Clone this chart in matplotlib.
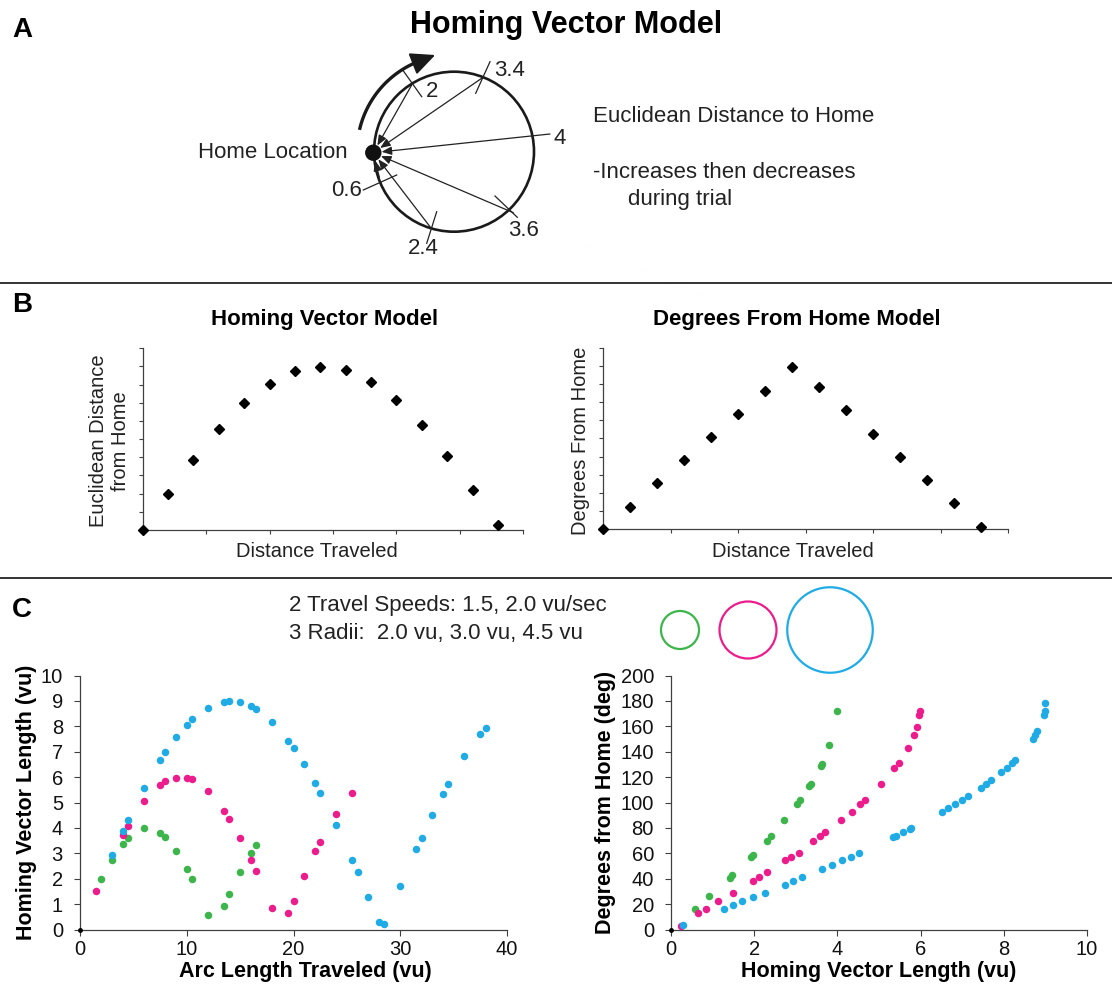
import numpy as np
import matplotlib
matplotlib.use('Agg')
import matplotlib.pyplot as plt
from matplotlib.patches import Circle

plt.rcParams['font.family'] = ['Liberation Sans', 'DejaVu Sans']

# ---------------- data ----------------
# Panel B (model curves)
model_dist = list(range(15))
hv_model = [0, 1.96, 3.83, 5.54, 6.97, 8.06, 8.73, 8.99, 8.79, 8.17, 7.14, 5.76, 4.09, 2.22, 0.26]
deg_model = [0, 1.25, 2.53, 3.80, 5.08, 6.35, 7.63, 8.92, 7.82, 6.55, 5.27, 4.00, 2.72, 1.45, 0.15]

# Panel C left: arc length vs homing vector length
green_arc = [2.0, 3.0, 4.0, 4.5, 6.0, 7.5, 8.0, 9.0, 10.0, 10.5, 12.0, 13.5, 14.0, 15.0, 16.0, 16.5]
green_hv = [1.97, 2.73, 3.37, 3.60, 4.00, 3.81, 3.64, 3.10, 2.39, 1.98, 0.56, 0.93, 1.40, 2.28, 3.03, 3.33]
magenta_arc = [1.5, 4.0, 4.5, 6.0, 7.5, 8.0, 9.0, 10.0, 10.5, 12.0, 13.5, 14.0, 15.0, 16.0, 16.5,
               18.0, 19.5, 20.0, 21.0, 22.0, 22.5, 24.0, 25.5]
magenta_hv = [1.51, 3.72, 4.09, 5.06, 5.69, 5.83, 5.98, 5.96, 5.91, 5.45, 4.67, 4.34, 3.59, 2.74, 2.29,
              0.84, 0.64, 1.14, 2.10, 3.08, 3.43, 4.53, 5.37]
cyan_arc = [3.0, 4.0, 4.5, 6.0, 7.5, 8.0, 9.0, 10.0, 10.5, 12.0, 13.5, 14.0, 15.0, 16.0, 16.5, 18.0,
            19.5, 20.0, 21.0, 22.0, 22.5, 24.0, 25.5, 26.0, 27.0, 28.0, 28.5, 30.0, 31.5, 32.0, 33.0,
            34.0, 34.5, 36.0, 37.5, 38.0]
cyan_hv = [2.95, 3.88, 4.31, 5.57, 6.66, 6.99, 7.56, 8.06, 8.27, 8.74, 8.96, 8.99, 8.95, 8.81, 8.69, 8.18,
           7.44, 7.16, 6.50, 5.77, 5.37, 4.12, 2.73, 2.25, 1.27, 0.28, 0.22, 1.72, 3.16, 3.62, 4.52,
           5.35, 5.74, 6.82, 7.69, 7.94]

# Panel C right: homing vector length vs degrees from home
green_len = [0.57, 0.92, 1.42, 1.47, 1.92, 1.97, 2.30, 2.40, 2.72, 3.03, 3.11, 3.32, 3.36, 3.60, 3.64, 3.81, 4.00]
green_deg = [16.5, 26.7, 40.9, 42.7, 57.1, 59.0, 69.7, 73.7, 86.0, 98.6, 102.2, 113.2, 114.8, 129.0, 130.5, 145.2, 172.0]
magenta_len = [0.23, 0.65, 0.85, 1.14, 1.48, 1.97, 2.11, 2.30, 2.75, 2.88, 3.08, 3.42, 3.59, 3.71, 4.09,
               4.34, 4.54, 4.67, 5.04, 5.36, 5.47, 5.70, 5.83, 5.91, 5.97, 5.98]
magenta_deg = [2.9, 12.6, 16.3, 22.3, 28.8, 38.3, 41.2, 45.1, 54.5, 57.4, 60.3, 69.7, 73.7, 76.5, 86.0,
               92.8, 98.6, 102.2, 114.5, 127.1, 130.8, 143.1, 152.8, 159.4, 169.1, 172.0]
cyan_len = [0.28, 1.27, 1.50, 1.71, 1.98, 2.25, 2.74, 2.94, 3.16, 3.62, 3.87, 4.12, 4.32, 4.52, 5.33, 5.40,
            5.57, 5.74, 5.78, 6.51, 6.67, 6.82, 6.99, 7.15, 7.44, 7.58, 7.70, 7.94, 8.07, 8.19, 8.28,
            8.69, 8.76, 8.81, 8.97, 8.98, 9.00]
cyan_deg = [3.7, 16.5, 19.1, 22.3, 25.7, 29.1, 35.4, 38.5, 41.2, 47.4, 51.1, 54.5, 57.4, 60.3, 72.9, 73.4,
            76.5, 79.4, 79.9, 92.5, 95.7, 98.6, 102.0, 105.4, 111.7, 114.3, 117.4, 124.0, 127.1, 130.8, 133.7,
            149.9, 152.8, 156.0, 169.1, 172.0, 178.5]

origin_x = [0]
origin_y = [0]

radii_vu = [2.0, 3.0, 4.5]
diagram_labels = ['2', '3.4', '4', '3.6', '2.4', '0.6']

GREEN = '#3cb54a'
MAGENTA = '#ec1c8c'
CYAN = '#1eabe6'
DARK = '#1a1a1a'
SPINE = '#404040'

# ---------------- figure ----------------
W, H = 1112, 989
fig = plt.figure(figsize=(W / 100, H / 100), dpi=100)


def add_ax(x0, y0, x1, y1):
    return fig.add_axes([x0 / W, 1 - y1 / H, (x1 - x0) / W, (y1 - y0) / H])


ov = fig.add_axes([0, 0, 1, 1])
ov.set_xlim(0, W)
ov.set_ylim(H, 0)
ov.set_axis_off()

# panel letters & separators
for lab, y in [('A', 30), ('B', 305), ('C', 610)]:
    ov.text(22, y, lab, fontsize=20, fontweight='bold', ha='center', va='center')
for y in [283, 578]:
    ov.plot([0, W], [y, y], color='#333333', lw=1.4)

# ---------------- Panel A diagram ----------------
ov.text(566, 25, 'Homing Vector Model', fontsize=22, fontweight='bold', ha='center', va='center')
cx, cy, r = 454, 151.7, 80
ov.add_patch(Circle((cx, cy), r, fill=False, lw=1.9, color=DARK))
home = (373.3, 152.7)
ov.add_patch(Circle(home, 7.5, color='#111111', zorder=6))

starts = [(411.7, 85), (481.7, 78.3), (550, 134), (513.3, 212.7), (430, 226.7), (379.5, 178)]
for s in starts:
    ov.annotate('', xy=home, xytext=s,
                arrowprops=dict(arrowstyle='-|>,head_length=0.6,head_width=0.25', color='#222222',
                                lw=0.9, mutation_scale=10, shrinkA=0, shrinkB=6))
ticks = [((402.7, 70), (421.7, 96.7)), ((490, 61.7), (475.7, 93.3)), ((495, 196), (517.3, 217.3)),
         ((436.7, 211.7), (426.7, 243.3)), ((363.3, 190), (396.7, 175))]
for (a, b) in ticks:
    ov.plot([a[0], b[0]], [a[1], b[1]], color='#222222', lw=0.9)
label_pos = [(431.7, 91.7), (510, 70), (560, 138.3), (523.3, 230), (423.3, 248.3), (346.7, 190)]
for lab, (x, y) in zip(diagram_labels, label_pos):
    ov.text(x, y, lab, fontsize=16, ha='center', va='center', color='#222222')

# curved direction arrow
R = 97
th = np.radians(np.linspace(167, 114, 60))
xs = cx + R * np.cos(th)
ys = cy - R * np.sin(th)
ov.plot(xs, ys, lw=2.4, color=DARK, solid_capstyle='butt')
tip_th = np.radians(101)
tip = (cx + 98.5 * np.cos(tip_th), cy - 98.5 * np.sin(tip_th))
ov.annotate('', xy=tip, xytext=(xs[-1], ys[-1]),
            arrowprops=dict(arrowstyle='-|>,head_length=0.75,head_width=0.35', color=DARK,
                            lw=1.5, mutation_scale=20, shrinkA=0, shrinkB=0))

ov.text(348, 152, 'Home Location', fontsize=16, ha='right', va='center', color='#222222')
ov.text(593, 117, 'Euclidean Distance to Home', fontsize=16, ha='left', va='center', color='#222222')
ov.text(593, 172, '-Increases then decreases', fontsize=16, ha='left', va='center', color='#222222')
ov.text(628, 199, 'during trial', fontsize=16, ha='left', va='center', color='#222222')

# ---------------- Panel B ----------------
axB1 = add_ax(142.7, 348.3, 523.3, 530)
axB2 = add_ax(603.3, 347.7, 1008.3, 529.3)
for ax, yv in [(axB1, hv_model), (axB2, deg_model)]:
    ax.plot(model_dist, yv, 'D', ms=5.2, color='black', clip_on=False, zorder=5)
    ax.set_xlim(0, 15)
    ax.set_ylim(0, 10)
    ax.set_xticks(np.arange(0, 15.1, 2.5))
    ax.set_yticks(np.arange(0, 11, 1))
    ax.set_xticklabels([])
    ax.set_yticklabels([])
    ax.tick_params(direction='out', length=3.2, width=0.8, color=SPINE)
    for sp in ['top', 'right']:
        ax.spines[sp].set_visible(False)
    for sp in ['left', 'bottom']:
        ax.spines[sp].set_color(SPINE)
        ax.spines[sp].set_linewidth(0.9)
    ax.patch.set_alpha(0)

ov.text(325, 320, 'Homing Vector Model', fontsize=16, fontweight='bold', ha='center', va='center')
ov.text(797, 320, 'Degrees From Home Model', fontsize=16, fontweight='bold', ha='center', va='center')
ov.text(110, 441, 'Euclidean Distance\nfrom Home', rotation=90, fontsize=14.5, ha='center', va='center',
        multialignment='center', color='#222222')
ov.text(580, 441, 'Degrees From Home', rotation=90, fontsize=14.5, ha='center', va='center', color='#222222')
ov.text(316.7, 551.7, 'Distance Traveled', fontsize=14.5, ha='center', va='center', color='#222222')
ov.text(793.3, 551.7, 'Distance Traveled', fontsize=14.5, ha='center', va='center', color='#222222')

# ---------------- Panel C header ----------------
ov.text(289, 606, '2 Travel Speeds: 1.5, 2.0 vu/sec', fontsize=16, ha='left', va='center', color='#222222')
ov.text(289, 633, '3 Radii:  2.0 vu, 3.0 vu, 4.5 vu', fontsize=16, ha='left', va='center', color='#222222')
for rv, xc, col in zip(radii_vu, [680, 748, 830], [GREEN, MAGENTA, CYAN]):
    ov.add_patch(Circle((xc, 630), 9.5 * rv, fill=False, lw=1.6, color=col))

# ---------------- Panel C plots ----------------
axC1 = add_ax(80, 675.5, 507, 929.5)
axC2 = add_ax(671, 675.5, 1087, 929.5)

for xs_, ys_, col in [(green_arc, green_hv, GREEN), (magenta_arc, magenta_hv, MAGENTA),
                      (cyan_arc, cyan_hv, CYAN)]:
    axC1.plot(xs_, ys_, 'o', ms=5.4, mew=0, color=col, clip_on=False, zorder=4)
for xs_, ys_, col in [(green_len, green_deg, GREEN), (magenta_len, magenta_deg, MAGENTA),
                      (cyan_len, cyan_deg, CYAN)]:
    axC2.plot(xs_, ys_, 'o', ms=5.4, mew=0, color=col, clip_on=False, zorder=4)

axC1.set_xlim(0, 40)
axC1.set_ylim(0, 10)
axC1.set_xticks(np.arange(0, 41, 10))
axC1.set_yticks(np.arange(0, 11, 1))
axC2.set_xlim(0, 10)
axC2.set_ylim(0, 200)
axC2.set_xticks(np.arange(0, 11, 2))
axC2.set_yticks(np.arange(0, 201, 20))

for ax in [axC1, axC2]:
    ax.plot(origin_x, origin_y, 'o', ms=2.5, color='black', clip_on=False, zorder=5)
    for sp in ['top', 'right']:
        ax.spines[sp].set_visible(False)
    for sp in ['left', 'bottom']:
        ax.spines[sp].set_color(SPINE)
        ax.spines[sp].set_linewidth(0.9)
    ax.tick_params(direction='out', length=4.3, width=0.8, color=SPINE, labelsize=14.5,
                   labelcolor='#111111')
    ax.tick_params(axis='y', pad=8)
    ax.tick_params(axis='x', pad=3.5)
    ax.patch.set_alpha(0)

ov.text(305, 972, 'Arc Length Traveled (vu)', fontsize=15.5, fontweight='bold', ha='center', va='center')
ov.text(27, 802, 'Homing Vector Length (vu)', rotation=90, fontsize=15.5, fontweight='bold',
        ha='center', va='center')
ov.text(879, 972, 'Homing Vector Length (vu)', fontsize=15.5, fontweight='bold', ha='center', va='center')
ov.text(605, 802, 'Degrees from Home (deg)', rotation=90, fontsize=15.5, fontweight='bold',
        ha='center', va='center')

fig.savefig('out.png', dpi=100)
